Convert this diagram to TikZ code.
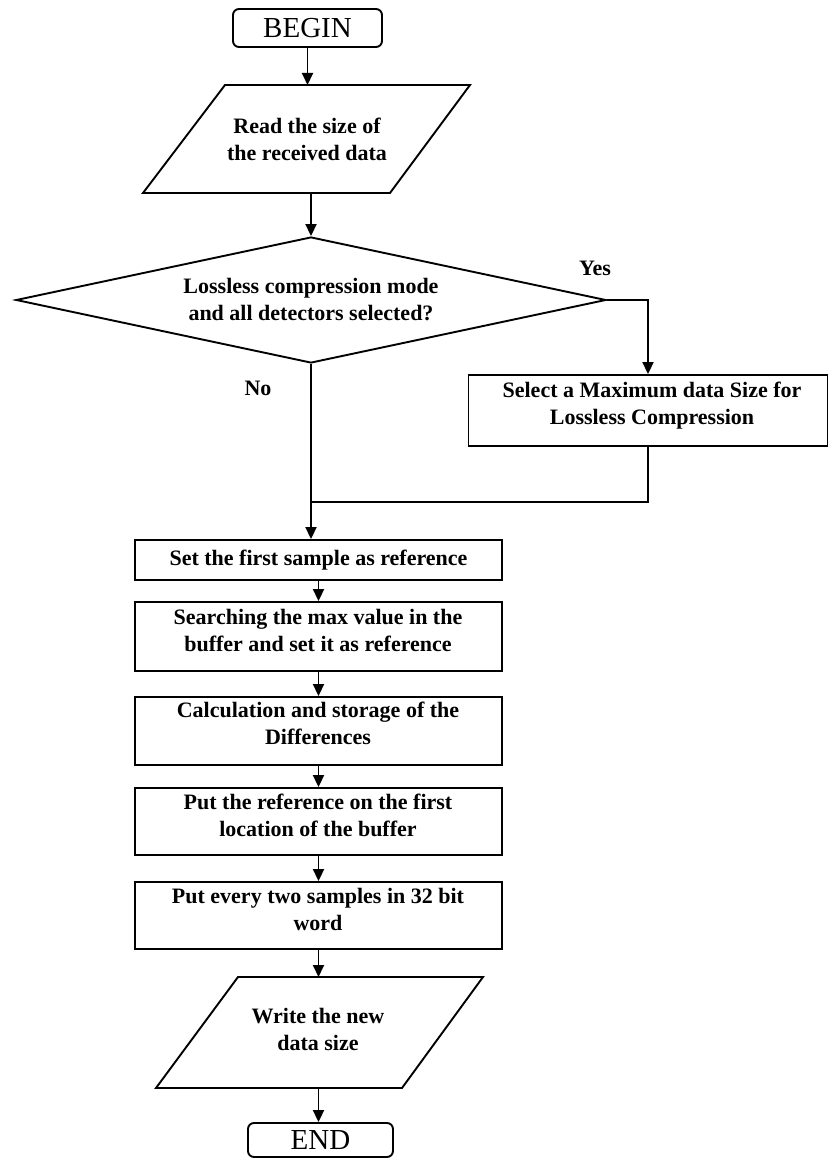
\documentclass[tikz,border=0pt]{standalone}
\usepackage{fontspec}
\setmainfont{Liberation Serif}
\usetikzlibrary{shapes.geometric,arrows.meta,calc}
\begin{document}
\begin{tikzpicture}[x=1pt,y=-1pt,
  line width=1.9pt,
  arr/.style={-{Triangle[length=12pt,width=11pt]}},
  body/.style={font=\fontsize{22}{27}\selectfont\bfseries, align=center, inner sep=0pt},
  terminal/.style={draw, rounded corners=6pt, font=\fontsize{29}{32}\selectfont, inner sep=0pt},
  procbox/.style={draw, minimum width=367pt, inner sep=0pt},
  decision/.style={draw, diamond, aspect=4.67, inner sep=0pt, body},
]
\useasboundingbox (0,0) rectangle (829,1158);

% start
\node[terminal, minimum width=149pt, minimum height=38pt] (begin) at (307.5,28) {BEGIN};

% input: read the size
\draw (143,193) -- (225,85) -- (470,85) -- (390,193) -- cycle;
\coordinate (p1top) at (307.5,85);
\coordinate (p1bot) at (311,193);
\node[body] (p1) at (307,139) {Read the size of\\the received data};

% decision
\node[decision, minimum width=590pt, minimum height=126pt] (dia) at (311,300)
  {Lossless compression mode\\and all detectors selected?};
\node[body] (yes) at (595,268) {Yes};
\node[body] (no) at (258,388) {No};

% lossless branch
\node[draw, minimum width=359pt, minimum height=71pt, inner sep=0pt] (sel) at (648,410.5) {};
\node[body] (seltxt) at (652,406) {Select a Maximum data Size for\\Lossless Compression};
\coordinate (join) at (311,502);

% processing steps
\node[procbox, minimum height=40pt, body] (b1) at (318.5,560) {Set the first sample as reference};
\node[procbox, minimum height=69pt] (b2) at (318.5,636.5) {};
\node[body] (t2) at (318,630) {Searching the max value in the\\buffer and set it as reference};
\node[procbox, minimum height=68pt] (b3) at (318.5,731) {};
\node[body] (t3) at (318,723) {Calculation and storage of the\\Differences};
\node[procbox, minimum height=67pt] (b4) at (318.5,821.5) {};
\node[body] (t4) at (318,815) {Put the reference on the first\\location of the buffer};
\node[procbox, minimum height=67pt] (b5) at (318.5,915.5) {};
\node[body] (t5) at (318,909) {Put every two samples in 32 bit\\word};

% output: write the new size
\draw (156,1088) -- (238,977) -- (483,977) -- (402,1088) -- cycle;
\coordinate (p2top) at (318.5,977);
\coordinate (p2bot) at (318.5,1088);
\node[body] (p2) at (318,1029) {Write the new\\data size};

% end
\node[terminal, minimum width=145pt, minimum height=34pt] (endn) at (320.5,1140) {END};

% connectors
\draw[arr] (begin.south) -- (p1top);
\draw[arr] (p1bot) -- (dia.north);
\draw[arr] (dia.east) -| (sel.north);
\draw (sel.south) |- (join);
\draw[arr] (dia.south) -- (dia.south |- b1.north);
\draw[arr] (b1.south) -- (b2.north);
\draw[arr] (b2.south) -- (b3.north);
\draw[arr] (b3.south) -- (b4.north);
\draw[arr] (b4.south) -- (b5.north);
\draw[arr] (b5.south) -- (p2top);
\draw[arr] (p2bot) -- (p2bot |- endn.north);
\end{tikzpicture}
\end{document}
